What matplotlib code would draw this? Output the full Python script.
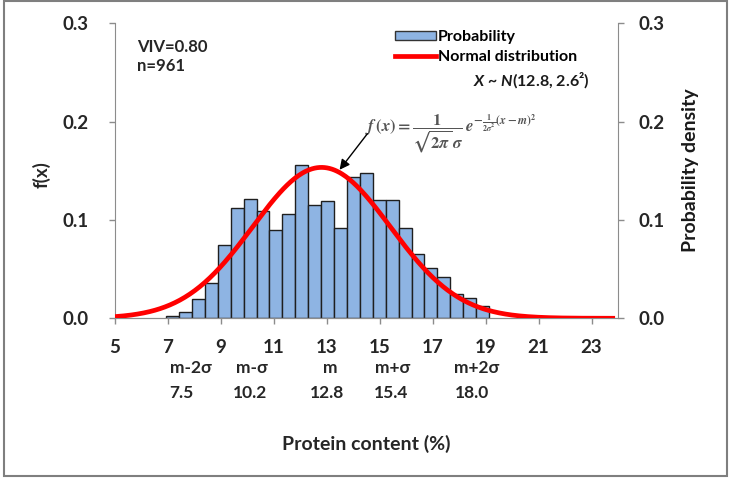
import numpy as np
import matplotlib.pyplot as plt
from matplotlib.patches import Rectangle, Patch
from matplotlib.lines import Line2D

plt.rcParams['font.family'] = ['Lato', 'DejaVu Sans']
plt.rcParams['font.weight'] = 'bold'
plt.rcParams['mathtext.fontset'] = 'custom'
plt.rcParams['mathtext.rm'] = 'Lato:bold'
plt.rcParams['mathtext.it'] = 'Lato:italic:bold'

# histogram of protein content (%), bins from 6.93 to 19.13
bin_lo, bin_hi = 6.93, 19.13
probability = [0.002, 0.006, 0.020, 0.036, 0.075, 0.112, 0.121, 0.109, 0.090, 0.106,
               0.156, 0.115, 0.119, 0.092, 0.144, 0.148, 0.120, 0.120, 0.092, 0.065,
               0.051, 0.042, 0.025, 0.021, 0.013]
edges = np.linspace(bin_lo, bin_hi, len(probability) + 1)

# normal distribution X ~ N(12.8, 2.6^2)
mean, sd = 12.8, 2.6
cx = np.linspace(5, 23.8, 400)
cy = np.exp(-(cx - mean) ** 2 / (2 * sd ** 2)) / (np.sqrt(2 * np.pi) * sd)

xticks = [5, 7, 9, 11, 13, 15, 17, 19, 21, 23]
yticks = [0.0, 0.1, 0.2, 0.3]
sigma_names = ['m-2σ', 'm-σ', 'm', 'm+σ', 'm+2σ']
sigma_values = ['7.5', '10.2', '12.8', '15.4', '18.0']
name_pos = [7.87, 10.17, 13.12, 15.5, 18.67]
value_pos = [7.49, 10.1, 13.0, 15.42, 18.5]

fig = plt.figure(figsize=(7.31, 4.78), dpi=100)
ax = fig.add_axes([0.1573, 0.3341, 0.6881, 0.6172])
ax2 = ax.twinx()

ax.bar(edges[:-1], probability, width=np.diff(edges), align='edge',
       color='#8EB4E3', edgecolor='#1f1f1f', linewidth=1.0, zorder=2)
ax2.plot(cx, cy, color='#FF0000', lw=3.4, zorder=3)

grey = '#8c8c8c'
txt = '#262626'
for a in (ax, ax2):
    a.set_xlim(5, 24)
    a.set_ylim(0, 0.3)
    a.set_yticks(yticks)
    a.set_yticklabels(['%.1f' % t for t in yticks])
    a.spines['top'].set_visible(False)
    for s in a.spines.values():
        s.set_color(grey)
    a.tick_params(colors=grey, labelcolor=txt, length=4, width=1)
ax.spines['right'].set_visible(False)
ax2.spines['left'].set_visible(False)
ax.set_xticks(xticks)
ax.tick_params(axis='x', pad=11, labelsize=13.5)
ax.tick_params(axis='y', pad=15, labelsize=13.5)
ax2.tick_params(axis='y', pad=11, labelsize=13.5)

for n, x in zip(sigma_names, name_pos):
    ax.text(x, -0.167, n, transform=ax.get_xaxis_transform(), ha='center', va='center',
            fontsize=12.5, color=txt)
for v, x in zip(sigma_values, value_pos):
    ax.text(x, -0.252, v, transform=ax.get_xaxis_transform(), ha='center', va='center',
            fontsize=12.5, color=txt)

fig.text(0.5007, 0.071, 'Protein content (%)', ha='center', va='center', fontsize=14, color=txt)
fig.text(0.0575, 0.634, 'f(x)', rotation=90, ha='center', va='center', fontsize=13.5, color=txt)
fig.text(0.944, 0.644, 'Probability density', rotation=90, ha='center', va='center', fontsize=14, color='#1a1a1a')
fig.text(0.188, 0.918, 'VIV=0.80\nn=961', ha='left', va='top', fontsize=12, color=txt, linespacing=1.2)

handles = [Patch(facecolor='#8EB4E3', edgecolor='#333333', linewidth=1.0),
           Line2D([], [], color='#FF0000', lw=3.4)]
fig.legend(handles, ['Probability', 'Normal distribution'], loc='upper left',
           bbox_to_anchor=(0.540, 0.937), frameon=False, fontsize=11.5,
           handlelength=2.6, handleheight=0.5, handletextpad=0.1,
           labelspacing=0.35, borderaxespad=0, borderpad=0)
fig.text(0.807, 0.833, r'$X$ ~ $N$(12.8, 2.6²)', ha='right', va='center', fontsize=11.5, color='#1a1a1a')

ax2.text(0.617, 0.72, r'$f\,(x)=\dfrac{1}{\sqrt{2\pi}\,\sigma}\,e^{-\frac{1}{2\sigma^2}(x-m)^2}$',
         transform=fig.transFigure, ha='center', va='center', fontsize=12,
         color='#555555', math_fontfamily='stix')
ax2.annotate('', xy=(13.42, 0.1488), xytext=(14.6, 0.19),
             arrowprops=dict(arrowstyle='-|>', color='black', lw=1.0, mutation_scale=15))

fig.patches.append(Rectangle((0.006, 0.004), 0.989, 0.993, transform=fig.transFigure,
                             fill=False, edgecolor='#7f7f7f', linewidth=1.5))

fig.savefig('out.png', dpi=100)
